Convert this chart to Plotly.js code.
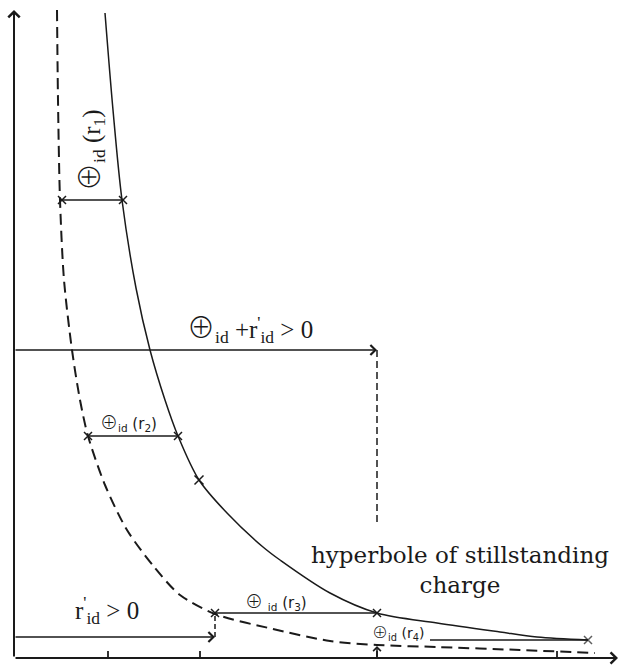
<!DOCTYPE html>
<html><head><meta charset="utf-8">
<script src="https://cdn.plot.ly/plotly-3.0.1.min.js"></script>
<style>html,body{margin:0;padding:0;background:#fff}#chart{width:620px;height:666px}</style>
</head><body><div id="chart"></div>
<script>
// Hyperbola of stillstanding charge (solid)
const hyperbolaX = [91, 99, 108, 122, 136, 151, 164, 185, 213, 249, 266, 316, 363, 423, 486, 523, 574];
const hyperbolaY = [645, 548, 458, 370, 308, 258, 222, 178, 145, 111, 98, 65, 45, 35, 26, 21, 18];
// Shifted (dashed) curve
const dashedX = [43, 44, 46, 50, 58, 66, 74, 91, 113, 141, 166, 201, 259, 316, 363, 423, 506, 581];
const dashedY = [648, 558, 458, 378, 308, 258, 222, 173, 128, 90, 63, 44, 29, 17, 13, 11, 8, 5];
// Intervals ⊕id(r1..r4)
const intervalNames = ['r1', 'r2', 'r3', 'r4'];
const intervalStartX = [48, 74, 201, 416];
const intervalEndX = [109, 164, 363, 574];
const intervalY = [458, 222, 45, 18];
// Mark on hyperbola
const markX = [185];
const markY = [178];
// Threshold arrows
const sumArrowY = 308, sumArrowX = 363, sumDropY = 133;
const primeArrowY = 21, primeArrowX = 201, primeRiseY = 42;
// x-axis ticks
const xTicks = [94, 186, 363, 543];

const ink = '#1a1a1a';
const traces = [];
traces.push({x: hyperbolaX, y: hyperbolaY, mode: 'lines', line: {color: ink, width: 1.5, shape: 'spline', smoothing: 0.9}, cliponaxis: false, hoverinfo: 'skip'});
traces.push({x: dashedX, y: dashedY, mode: 'lines', line: {color: ink, width: 2, dash: '11px,6px', shape: 'spline', smoothing: 0.8}, cliponaxis: false, hoverinfo: 'skip'});
intervalNames.forEach((n, i) => {
  traces.push({x: [intervalStartX[i], intervalEndX[i]], y: [intervalY[i], intervalY[i]], mode: 'lines+markers',
    line: {color: ink, width: 1.5},
    marker: {symbol: 'x-thin-open', color: ink, size: i === 3 ? [0, 8] : 8, line: {color: ink, width: 1.5}},
    cliponaxis: false, hoverinfo: 'skip'});
});
traces.push({x: markX, y: markY, mode: 'markers', marker: {symbol: 'x-thin-open', color: ink, size: 9, line: {color: ink, width: 1.5}}, cliponaxis: false, hoverinfo: 'skip'});
traces.push({x: [sumArrowX, sumArrowX], y: [sumArrowY, sumDropY], mode: 'lines', line: {color: ink, width: 1.5, dash: '7px,4px'}, cliponaxis: false, hoverinfo: 'skip'});
traces.push({x: [primeArrowX, primeArrowX], y: [primeArrowY, primeRiseY], mode: 'lines', line: {color: ink, width: 1.5, dash: '5px,3px'}, cliponaxis: false, hoverinfo: 'skip'});

const serif = 'DejaVu Serif, Liberation Serif, serif';
const tserif = 'Liberation Serif, DejaVu Serif, serif';
const sans = 'DejaVu Sans, Liberation Sans, sans-serif';
function arrow(x, y, ax, ay, w, s) {
  return {x: x, y: y, ax: ax, ay: ay, xref: 'x', yref: 'y', axref: 'x', ayref: 'y', text: '', showarrow: true,
    arrowhead: 4, arrowsize: s || 1.2, arrowwidth: w || 1.5, arrowcolor: ink, standoff: 0, startstandoff: 0};
}
function label(x, y, text, font, size, extra) {
  return Object.assign({x: x, y: y, xref: 'x', yref: 'y', text: text, showarrow: false,
    font: {family: font, size: size, color: ink}}, extra || {});
}
const bigO = s => '<span style="font-family:Noto Sans CJK JP;font-weight:300;font-size:' + s + 'px">⊕</span>';
const annotations = [
  arrow(604, 0, 0, 0, 2, 1.1),
  arrow(0, 648, 0, 0, 2, 1.1),
  arrow(sumArrowX, sumArrowY, 0, sumArrowY, 1.5, 1.3),
  arrow(primeArrowX, primeArrowY, 0, primeArrowY, 1.5, 1.3),
  arrow(363, 12, 363, 0, 1.5, 1),
  label(74, 508, bigO(28) + '<sub>id</sub> (r<sub>1</sub>)', tserif, 25, {textangle: -90}),
  label(236, 332, bigO(28) + '<sub>id</sub> +r<sup>\'</sup><sub>id</sub> &gt; 0', tserif, 25),
  label(114, 237, bigO(18) + '<sub>id</sub> (r<sub>2</sub>)', sans, 15),
  label(262, 58, bigO(18) + ' <sub>id</sub> (r<sub>3</sub>)', sans, 15),
  label(384, 27, bigO(16) + '<sub>id</sub> (r<sub>4</sub>)', sans, 14),
  label(93, 48, 'r<sup>\'</sup><sub>id</sub> &gt; 0', tserif, 25),
  label(446, 88, 'hyperbole of stillstanding<br>charge', serif, 23, {align: 'center'})
];

const layout = {
  width: 620, height: 666,
  margin: {l: 14, r: 0, t: 8, b: 8},
  paper_bgcolor: '#fff', plot_bgcolor: '#fff',
  showlegend: false,
  xaxis: {range: [0, 606], showgrid: false, zeroline: false, showline: false, showticklabels: false,
    tickmode: 'array', tickvals: xTicks, ticks: 'inside', ticklen: 7, tickwidth: 2, tickcolor: '#333', fixedrange: true},
  yaxis: {range: [0, 650], showgrid: false, zeroline: false, showline: false, showticklabels: false, ticks: '', fixedrange: true},
  annotations: annotations
};
Plotly.newPlot('chart', traces, layout, {staticPlot: true});
</script>
</body></html>
